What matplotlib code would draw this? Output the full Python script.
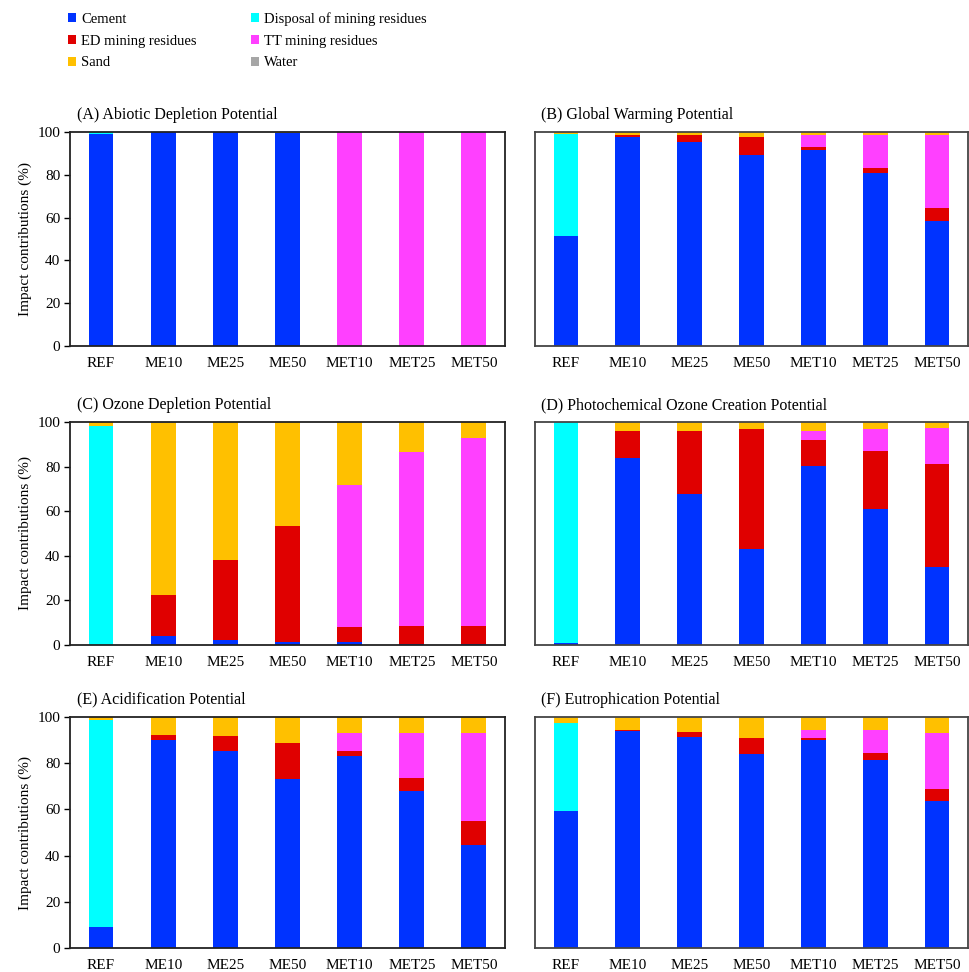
import numpy as np
import matplotlib
matplotlib.use("Agg")
import matplotlib.pyplot as plt
from matplotlib.patches import Patch

plt.rcParams['font.family'] = ['Liberation Serif', 'DejaVu Serif']

scenarios = ["REF", "ME10", "ME25", "ME50", "MET10", "MET25", "MET50"]
components = ["Cement", "Disposal of mining residues", "ED mining residues",
              "TT mining residues", "Sand", "Water"]
colors = ["#0033FF", "#00FFFF", "#E00000", "#FF40FF", "#FFC000", "#A6A6A6"]

# contributions (%) per component, one list per scenario order above
adp_cement   = [99.0, 99.8, 99.8, 99.4, 0.0, 0.0, 0.0]
adp_disposal = [1.0, 0.0, 0.0, 0.0, 0.0, 0.0, 0.0]
adp_ed       = [0.0, 0.0, 0.0, 0.0, 0.0, 0.0, 0.0]
adp_tt       = [0.0, 0.0, 0.0, 0.0, 99.8, 99.8, 99.8]
adp_sand     = [0.0, 0.2, 0.2, 0.6, 0.2, 0.2, 0.2]
adp_water    = [0.0, 0.0, 0.0, 0.0, 0.0, 0.0, 0.0]

gwp_cement   = [51.3, 97.5, 95.4, 89.2, 91.5, 80.7, 58.3]
gwp_disposal = [47.9, 0.0, 0.0, 0.0, 0.0, 0.0, 0.0]
gwp_ed       = [0.0, 0.9, 3.1, 8.3, 1.4, 2.3, 6.2]
gwp_tt       = [0.0, 0.0, 0.0, 0.0, 5.6, 15.5, 34.0]
gwp_sand     = [0.8, 1.5, 1.5, 2.5, 1.5, 1.5, 1.5]
gwp_water    = [0.0, 0.1, 0.0, 0.0, 0.0, 0.0, 0.0]

odp_cement   = [0.0, 4.2, 2.4, 1.2, 1.2, 0.4, 0.4]
odp_disposal = [98.0, 0.0, 0.0, 0.0, 0.0, 0.0, 0.0]
odp_ed       = [0.0, 18.0, 35.5, 52.3, 6.8, 8.3, 8.3]
odp_tt       = [0.0, 0.0, 0.0, 0.0, 63.8, 78.0, 84.1]
odp_sand     = [2.0, 77.3, 62.1, 46.5, 28.2, 13.3, 7.2]
odp_water    = [0.0, 0.5, 0.0, 0.0, 0.0, 0.0, 0.0]

pocp_cement   = [1.0, 84.0, 67.5, 43.2, 80.3, 61.0, 35.0]
pocp_disposal = [99.0, 0.0, 0.0, 0.0, 0.0, 0.0, 0.0]
pocp_ed       = [0.0, 12.0, 28.5, 53.5, 11.8, 25.9, 46.0]
pocp_tt       = [0.0, 0.0, 0.0, 0.0, 3.9, 9.8, 16.3]
pocp_sand     = [0.0, 4.0, 4.0, 3.3, 4.0, 3.3, 2.7]
pocp_water    = [0.0, 0.0, 0.0, 0.0, 0.0, 0.0, 0.0]

ap_cement   = [8.9, 90.1, 85.1, 73.0, 83.0, 67.9, 44.4]
ap_disposal = [89.9, 0.0, 0.0, 0.0, 0.0, 0.0, 0.0]
ap_ed       = [0.0, 2.3, 6.6, 15.8, 2.2, 5.8, 10.6]
ap_tt       = [0.0, 0.0, 0.0, 0.0, 7.9, 19.4, 38.1]
ap_sand     = [1.2, 7.6, 8.3, 11.2, 6.9, 6.9, 6.9]
ap_water    = [0.0, 0.0, 0.0, 0.0, 0.0, 0.0, 0.0]

ep_cement   = [59.4, 93.8, 91.5, 84.1, 90.1, 81.4, 63.8]
ep_disposal = [38.0, 0.0, 0.0, 0.0, 0.0, 0.0, 0.0]
ep_ed       = [0.0, 0.7, 2.2, 6.6, 0.6, 2.9, 5.1]
ep_tt       = [0.0, 0.0, 0.0, 0.0, 3.8, 10.2, 24.1]
ep_sand     = [2.6, 5.5, 6.3, 9.3, 5.5, 5.5, 7.0]
ep_water    = [0.0, 0.0, 0.0, 0.0, 0.0, 0.0, 0.0]

titles = ["(A) Abiotic Depletion Potential", "(B) Global Warming Potential",
          "(C) Ozone Depletion Potential", "(D) Photochemical Ozone Creation Potential",
          "(E) Acidification Potential", "(F) Eutrophication Potential"]

panels = [
    [adp_cement, adp_disposal, adp_ed, adp_tt, adp_sand, adp_water],
    [gwp_cement, gwp_disposal, gwp_ed, gwp_tt, gwp_sand, gwp_water],
    [odp_cement, odp_disposal, odp_ed, odp_tt, odp_sand, odp_water],
    [pocp_cement, pocp_disposal, pocp_ed, pocp_tt, pocp_sand, pocp_water],
    [ap_cement, ap_disposal, ap_ed, ap_tt, ap_sand, ap_water],
    [ep_cement, ep_disposal, ep_ed, ep_tt, ep_sand, ep_water],
]

W, H = 970, 972
fig = plt.figure(figsize=(W / 100, H / 100), dpi=100)

# axes boxes in pixels: (left, right, top, bottom)
col_x = [(70, 505), (535, 968)]
row_y = [(132, 346), (422, 645), (717, 948)]

x = np.arange(len(scenarios))
for i, (title, data) in enumerate(zip(titles, panels)):
    r, c = divmod(i, 2)
    x0, x1 = col_x[c]
    y0, y1 = row_y[r]
    ax = fig.add_axes([x0 / W, 1 - y1 / H, (x1 - x0) / W, (y1 - y0) / H])
    bottom = np.zeros(len(scenarios))
    for vals, col in zip(data, colors):
        vals = np.asarray(vals, dtype=float)
        ax.bar(x, vals, width=0.4, bottom=bottom, color=col, linewidth=0)
        bottom += vals
    ax.set_xlim(-0.5, len(scenarios) - 0.5)
    ax.set_ylim(0, 100)
    ax.set_xticks(x)
    ax.set_xticklabels(scenarios, fontsize=11)
    ax.tick_params(axis='x', length=0, pad=8)
    for s in ax.spines.values():
        s.set_linewidth(1.3)
        s.set_color('#222222' if c == 0 else '#444444')
    if c == 0:
        ax.set_yticks(np.arange(0, 101, 20))
        ax.tick_params(axis='y', length=4, width=1.0, labelsize=11, pad=3)
        ax.set_ylabel("Impact contributions (%)", fontsize=11, labelpad=4)
    else:
        ax.set_yticks([])
    ax.text(0.015, 1.04, title, transform=ax.transAxes, fontsize=11.5,
            ha='left', va='bottom')

# legend laid out row by row: two entries per row
order = [0, 2, 4, 1, 3, 5]
handles = [Patch(facecolor=colors[k], edgecolor='none') for k in order]
labels = [components[k] for k in order]
fig.legend(handles, labels, loc='upper left',
           bbox_to_anchor=(68 / W, 1 - 12 / H), ncol=2, frameon=False,
           fontsize=10.5, handlelength=0.55, handleheight=0.55,
           handletextpad=0.35, columnspacing=3.75, labelspacing=0.6,
           borderpad=0, borderaxespad=0)

fig.savefig("out.png", dpi=100)
